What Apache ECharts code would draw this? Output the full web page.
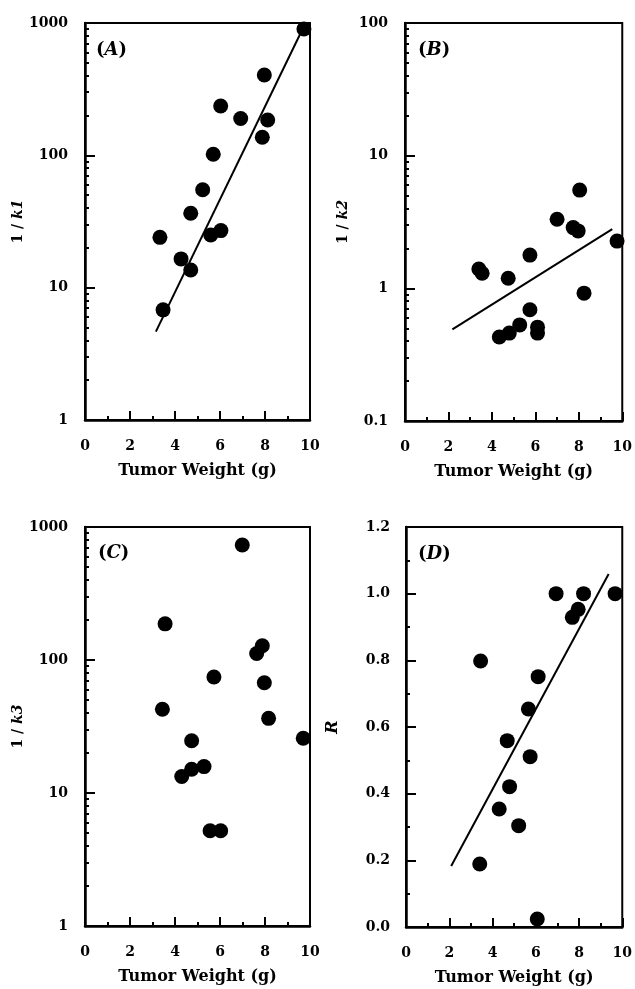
<!DOCTYPE html>
<html>
<head>
<meta charset="utf-8">
<script src="https://cdn.jsdelivr.net/npm/echarts@6/dist/echarts.min.js"></script>
<style>
  html, body { margin: 0; padding: 0; background: #fff; }
  #chart { width: 635px; height: 989px; }
</style>
</head>
<body>
<div id="chart"></div>
<script>
// panel A: 1/k1
var k1X = [3.33, 3.47, 4.27, 4.70, 4.70, 5.23, 5.70, 5.59, 6.04, 6.03, 6.92, 7.97, 8.12, 7.88, 9.73];
var k1Y = [24, 6.8, 16.5, 13.6, 36.5, 55, 102, 25, 27, 236, 190, 405, 185, 137, 900];
var k1FitX = [3.15, 9.8];
var k1FitY = [4.65, 1000];
// panel B: 1/k2
var k2X = [3.40, 3.55, 4.75, 5.75, 5.75, 5.28, 4.34, 4.80, 6.10, 6.10, 8.24, 9.76, 7.00, 7.74, 7.97, 8.04];
var k2Y = [1.4, 1.3, 1.19, 1.78, 0.69, 0.53, 0.43, 0.46, 0.51, 0.46, 0.92, 2.27, 3.32, 2.87, 2.71, 5.5];
var k2FitX = [2.18, 9.54];
var k2FitY = [0.49, 2.79];
// panel C: 1/k3
var k3X = [6.99, 3.56, 7.88, 7.63, 5.73, 7.97, 3.44, 8.16, 4.74, 9.70, 4.30, 4.74, 5.29, 5.56, 6.03];
var k3Y = [732, 187, 128, 112, 74.5, 67.5, 42.6, 36.4, 24.7, 25.8, 13.3, 15.1, 15.8, 5.2, 5.2];
// panel D: R
var rX = [6.94, 8.21, 9.67, 7.96, 7.69, 3.45, 6.11, 5.66, 4.68, 5.74, 4.79, 4.31, 5.21, 3.41, 6.07];
var rY = [1.0, 1.0, 1.0, 0.953, 0.929, 0.798, 0.751, 0.654, 0.559, 0.511, 0.421, 0.354, 0.304, 0.189, 0.024];
var rFitX = [2.09, 9.37];
var rFitY = [0.183, 1.059];

var xTitle = 'Tumor Weight (g)';
var panelNames = ['A', 'B', 'C', 'D'];
var minorSteps = [2, 3, 4, 5, 6, 7, 8, 9];

var FONT = 'DejaVu Serif';

function zip(xs, ys) {
  return xs.map(function (x, i) { return [x, ys[i]]; });
}

// minor ticks 2..9 inside every decade of a log axis
function logMinors(min, max) {
  var out = [];
  for (var d = min; d < max; d *= 10) {
    minorSteps.forEach(function (s) { out.push(+(s * d).toPrecision(3)); });
  }
  return out;
}

var grids = [
  { left: 85, top: 23, width: 225, height: 397 },
  { left: 405, top: 23, width: 223, height: 398 },
  { left: 85, top: 527, width: 225, height: 399 },
  { left: 406, top: 527, width: 222, height: 400 }
].map(function (g) {
  g.show = true;
  g.borderColor = '#000';
  g.borderWidth = 2;
  return g;
});

var labelStyle = { fontFamily: FONT, fontWeight: 'bold', fontSize: 14, color: '#000' };

function xAxis(gi) {
  return {
    gridIndex: gi, type: 'value', min: 0, max: 10, interval: 2,
    name: xTitle, nameLocation: 'middle', nameGap: 43,
    nameTextStyle: { fontFamily: FONT, fontWeight: 'bold', fontSize: 16, color: '#000' },
    axisLine: { lineStyle: { color: '#000', width: 2.5 } },
    axisTick: { inside: true, length: 9, lineStyle: { color: '#000', width: 2 } },
    minorTick: { show: true, splitNumber: 2, length: 4, lineStyle: { color: '#000', width: 2 } },
    axisLabel: Object.assign({ margin: 19 }, labelStyle),
    splitLine: { show: false }
  };
}

function yName(sub) {
  return '{n|1 / }{k|k' + sub + '}';
}

var nameRich = {
  n: { fontFamily: FONT, fontWeight: 'bold', fontSize: 14, color: '#000' },
  k: { fontFamily: FONT, fontWeight: 'bold', fontStyle: 'italic', fontSize: 14, color: '#000' }
};

function logY(gi, min, max, name, gap) {
  return {
    gridIndex: gi, type: 'log', logBase: 10, min: min, max: max, interval: 1,
    name: name, nameLocation: 'middle', nameGap: gap,
    nameTextStyle: { rich: nameRich },
    axisLine: { lineStyle: { color: '#000', width: 2.5 } },
    axisTick: { inside: true, length: 10, lineStyle: { color: '#000', width: 2 } },
    axisLabel: Object.assign({
      margin: 17,
      formatter: function (v) { return String(+v.toPrecision(3)); }
    }, labelStyle),
    splitLine: { show: false }
  };
}

function logMinorY(gi, min, max) {
  var vals = logMinors(min, max);
  return {
    gridIndex: gi, type: 'log', logBase: 10, min: min, max: max, position: 'left',
    axisLine: { show: false },
    axisTick: { inside: true, length: 4, customValues: vals, lineStyle: { color: '#000', width: 2 } },
    axisLabel: { show: false },
    splitLine: { show: false }
  };
}

var yAxes = [
  logY(0, 1, 1000, yName(1), 55),
  logY(1, 0.1, 100, yName(2), 55),
  logY(2, 1, 1000, yName(3), 55),
  {
    gridIndex: 3, type: 'value', min: 0, max: 1.2, interval: 0.2,
    name: 'R', nameLocation: 'middle', nameGap: 65,
    nameTextStyle: { fontFamily: FONT, fontWeight: 'bold', fontStyle: 'italic', fontSize: 16, color: '#000' },
    axisLine: { lineStyle: { color: '#000', width: 2.5 } },
    axisTick: { inside: true, length: 10, lineStyle: { color: '#000', width: 2 } },
    minorTick: { show: true, splitNumber: 2, length: 4, lineStyle: { color: '#000', width: 2 } },
    axisLabel: Object.assign({
      margin: 16,
      formatter: function (v) { return v.toFixed(1); }
    }, labelStyle),
    splitLine: { show: false }
  },
  logMinorY(0, 1, 1000),
  logMinorY(1, 0.1, 100),
  logMinorY(2, 1, 1000)
];

function dots(gi, xs, ys) {
  return {
    type: 'scatter', xAxisIndex: gi, yAxisIndex: gi,
    data: zip(xs, ys), symbol: 'circle', symbolSize: 15,
    itemStyle: { color: '#000', opacity: 1 }, clip: false, silent: true
  };
}

function fit(gi, xs, ys) {
  return {
    type: 'line', xAxisIndex: gi, yAxisIndex: gi,
    data: zip(xs, ys), showSymbol: false, symbol: 'none',
    lineStyle: { color: '#000', width: 2 }, silent: true
  };
}

var panelPos = [
  { left: 96, top: 41 },
  { left: 418, top: 41 },
  { left: 98, top: 544 },
  { left: 418, top: 545 }
];

var titles = panelNames.map(function (p, i) {
  return {
    text: '{p|(}{i|' + p + '}{p|)}',
    left: panelPos[i].left, top: panelPos[i].top, padding: 0,
    textStyle: {
      rich: {
        p: { fontFamily: FONT, fontSize: 18, color: '#000' },
        i: { fontFamily: FONT, fontSize: 18, fontStyle: 'italic', fontWeight: 'bold', color: '#000' }
      }
    }
  };
});

var chart = echarts.init(document.getElementById('chart'));
chart.setOption({
  backgroundColor: '#fff',
  animation: false,
  title: titles,
  grid: grids,
  xAxis: [xAxis(0), xAxis(1), xAxis(2), xAxis(3)],
  yAxis: yAxes,
  series: [
    fit(0, k1FitX, k1FitY),
    dots(0, k1X, k1Y),
    fit(1, k2FitX, k2FitY),
    dots(1, k2X, k2Y),
    dots(2, k3X, k3Y),
    fit(3, rFitX, rFitY),
    dots(3, rX, rY)
  ]
});
</script>
</body>
</html>
